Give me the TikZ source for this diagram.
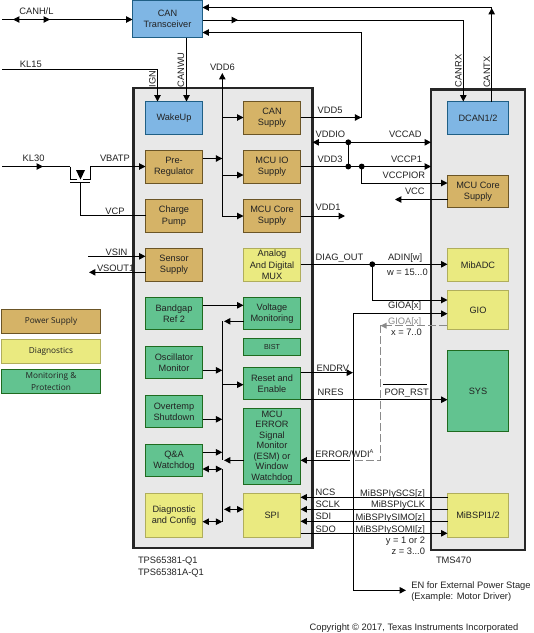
\documentclass[tikz,border=0pt]{standalone}
\usepackage{fontspec}
\setmainfont{Liberation Sans}
\newfontfamily\legendfont{Open Sans}
\usetikzlibrary{arrows.meta}
\definecolor{txt}{HTML}{222222}
\definecolor{bluef}{HTML}{7FB6E4}
\definecolor{blued}{HTML}{1F5F85}
\definecolor{tanf}{HTML}{D5B367}
\definecolor{tand}{HTML}{6B5526}
\definecolor{yelf}{HTML}{EAEA80}
\definecolor{yeld}{HTML}{B0AE5C}
\definecolor{grnf}{HTML}{62C390}
\definecolor{grnd}{HTML}{1F6B1F}
\definecolor{boxf}{HTML}{E8E8E8}
\definecolor{dashc}{HTML}{8A8A8A}
\tikzset{
  tip/.tip={Triangle[length=4.8pt,width=4.8pt]},
  wire/.style={draw=black,line width=0.75pt},
  arr/.style={wire,-{tip}},
  both/.style={wire,{tip}-{tip}},
  blk/.style={rectangle,inner sep=0pt,outer sep=0pt,align=center,text=txt,font=\fontsize{6.9pt}{8.5pt}\selectfont,line width=0.75pt},
  blue/.style={blk,fill=bluef,draw=blued},
  tan/.style={blk,fill=tanf,draw=tand},
  yel/.style={blk,fill=yelf,draw=yeld},
  grn/.style={blk,fill=grnf,draw=grnd},
  chip/.style={rectangle,inner sep=0pt,outer sep=0pt,fill=boxf,draw=black!85,line width=1.6pt},
  lbl/.style={inner sep=0pt,outer sep=0pt,text=txt,font=\fontsize{7pt}{8.5pt}\selectfont},
  legend/.style={font=\legendfont\fontsize{6.2pt}{8.5pt}\selectfont},
  dot/.style={circle,fill=black,inner sep=0pt,outer sep=0pt,minimum size=4.4pt},
  graydash/.style={draw=dashc,line width=0.75pt,dash pattern=on 6pt off 2.2pt},
}
\newcommand{\bx}[7]{\node[#2,minimum width={(#5-#3)*0.75pt},minimum height={(#6-#4)*0.75pt}] (#1) at ({(#3+#5)/2},{(#4+#6)/2}) {#7};}
% label with left edge x, vertical centre y
\newcommand{\lbw}[5][]{\node[lbl,anchor=base west,#1] (#2) at (#3,{#4+3.3}) {#5};}
% label with right edge x, vertical centre y
\newcommand{\lbe}[5][]{\node[lbl,anchor=base east,#1] (#2) at (#3,{#4+3.3}) {#5};}
\begin{document}
\begin{tikzpicture}[x=0.75pt,y=-0.75pt]
\useasboundingbox (0,0) rectangle (533,633);
% chips
\bx{tps}{chip}{133.5}{88}{312.5}{548}{}
\bx{tms}{chip}{431}{89.5}{525}{550}{}
% blocks
\bx{can}{blue}{132.5}{0.5}{202.5}{37.5}{CAN\\Transceiver}
\bx{wake}{blue}{145.5}{101.5}{202.5}{134.5}{WakeUp}
\bx{prereg}{tan}{145.5}{150.5}{202.5}{183.5}{Pre-\\Regulator}
\bx{pump}{tan}{145.5}{199.5}{202.5}{232.5}{Charge\\Pump}
\bx{sensor}{tan}{145.5}{248.5}{202.5}{281.5}{Sensor\\Supply}
\bx{bandgap}{grn}{145.5}{297.5}{202.5}{329.5}{Bandgap\\Ref 2}
\bx{osc}{grn}{145.5}{346.5}{202.5}{378.5}{Oscillator\\Monitor}
\bx{temp}{grn}{145.5}{395.5}{202.5}{427.5}{Overtemp\\Shutdown}
\bx{qa}{grn}{145.5}{444.5}{202.5}{476.5}{Q\&A\\Watchdog}
\bx{diag}{yel}{145.5}{493.5}{202.5}{537.5}{Diagnostic\\and Config}
\bx{cansup}{tan}{243.5}{101.5}{300.5}{134.5}{CAN\\Supply}
\bx{iosup}{tan}{243.5}{150.5}{300.5}{183.5}{MCU IO\\Supply}
\bx{coresup}{tan}{243.5}{199.5}{300.5}{232.5}{MCU Core\\Supply}
\bx{mux}{yel}{243.5}{248.5}{300.5}{281.5}{Analog\\And Digital\\MUX}
\bx{volt}{grn}{243.5}{297.5}{300.5}{329.5}{Voltage\\Monitoring}
\bx{bist}{grn,font=\fontsize{5.4pt}{6pt}\selectfont}{243.5}{338.5}{300.5}{355.5}{BIST}
\bx{reset}{grn}{243.5}{367.5}{300.5}{399.5}{Reset and\\Enable}
\bx{esm}{grn,font=\fontsize{6.9pt}{7.9pt}\selectfont}{243.5}{408.5}{300.5}{484.5}{MCU\\ERROR\\Signal\\Monitor\\(ESM) or\\Window\\Watchdog}
\bx{spi}{yel}{243.5}{493.5}{300.5}{537.5}{SPI}
\bx{dcan}{blue}{447.5}{101.5}{508.5}{134.5}{DCAN1/2}
\bx{mcucore}{tan}{447.5}{175.5}{508.5}{207.5}{MCU Core\\Supply}
\bx{adc}{yel}{447.5}{248.5}{508.5}{281.5}{MibADC}
\bx{gio}{yel}{447.5}{290.5}{508.5}{329.5}{GIO}
\bx{sys}{grn}{447.5}{350.5}{508.5}{431.5}{SYS}
\bx{mibspi}{yel}{447.5}{493.5}{508.5}{537.5}{MiBSPI1/2}
% legend
\bx{lgp}{tan,legend}{1.5}{309.5}{100.5}{333.5}{Power Supply}
\bx{lgd}{yel,legend}{1.5}{339.5}{100.5}{363.5}{Diagnostics}
\bx{lgm}{grn,legend}{1.5}{369.5}{100.5}{393.5}{Monitoring \&\\Protection}
% free ends and corners
\coordinate (canhl) at (2,19.5);
\coordinate (kl15) at (2,69.5);
\coordinate (kl30) at (2,166.5);
\coordinate (vdd6top) at (222.3,73);
\coordinate (vdd6bus) at (222.3,216);
\coordinate (vsin) at (88,256.3);
\coordinate (vsout) at (89,272.3);
\coordinate (vccend) at (395,199.5);
\coordinate (vdd1end) at (345,216);
\coordinate (busup) at (222.3,321.3);
\coordinate (busmid) at (222.3,460.3);
\coordinate (buslowt) at (222.3,469);
\coordinate (buslowb) at (222.3,521.7);
\coordinate (enbus) at (353,313.7);
\coordinate (enend) at (406,590.3);
\coordinate (tx) at (491.7,7.5);
\coordinate (rx) at (463.3,20);
\coordinate (v5) at (361.3,32.5);
\coordinate (v5b) at (361.3,117.5);
\node[dot] (d1) at (348.3,142.3) {};
\node[dot] (d2) at (348.3,166.5) {};
\node[dot] (d3) at (361.7,166.5) {};
\node[dot] (d4) at (372.3,264.3) {};
% MOSFET
\coordinate (fetl) at (70,166.5);
\coordinate (fetr) at (90,166.5);
\coordinate (fetg) at (80,182.5);
\draw[wire] (fetl) -- (70,179) -- (77,179);
\draw[wire] (fetr) -- (90,179) -- (83,179);
\draw[wire] (70,182.5) -- (90,182.5);
\fill[black] (76,170) -- (85,170) -- (80.5,179.5) -- cycle;
\draw[wire] (fetg) -- (80,215.8) -- (pump.west |- 0,215.8);
\draw[wire] (kl30) -- (fetl);
\draw[arr] (kl30) -- (43,166.5);
\draw[arr] (fetr) -- (prereg.west |- fetr);
% CAN connectors
\draw[arr] (canhl) -- (can.west |- canhl);
\draw[arr] (30,19.5) -- (13,19.5);
\draw[arr] (30,19.5) -- (50,19.5);
\draw[wire] (dcan.north -| tx) -- (tx);
\draw[arr] (dcan.north -| tx) -- (491.7,8);
\draw[arr] (tx) -- (can.east |- tx);
\draw[arr] (can.east |- rx) -- (rx) -- (dcan.north -| rx);
\draw[arr] (can.east |- rx) -- (238,20);
\draw[arr] (v5b) -- (v5) -- (can.east |- v5);
\draw[arr] (cansup.east |- v5b) -- (v5b);
\draw[arr] (can.south -| 186.5,0) -- (wake.north -| 186.5,0);
\draw[arr] (kl15) -- (157.5,69.5) -- (wake.north -| 157.5,0);
% VDD6 bus
\draw[arr] (vdd6bus) -- (vdd6top);
\draw[arr] (222.3,117.5) -- (cansup.west |- 0,117.5);
\draw[arr] (222.3,175) -- (iosup.west |- 0,175);
\draw[arr] (vdd6bus) -- (coresup.west |- vdd6bus);
\draw[arr] (prereg.east |- 0,158.5) -- (222.3,158.5);
% supply rails
\draw[both] (tps.east |- d1) -- (tms.west |- d1);
\draw[arr] (iosup.east |- d2) -- (tms.west |- d2);
\draw[wire] (d1) -- (d2);
\draw[arr] (d3) -- (361.7,183) -- (mcucore.west |- 0,183);
\draw[arr] (mcucore.west |- vccend) -- (vccend);
\draw[arr] (coresup.east |- vdd1end) -- (vdd1end);
% sensor
\draw[arr] (vsin) -- (sensor.west |- vsin);
\draw[arr] (sensor.west |- vsout) -- (vsout);
% diagnostics
\draw[arr] (mux.east |- d4) -- (adc.west |- d4);
\draw[arr] (d4) -- (372.3,300) -- (gio.west |- 0,300);
\draw[arr] (enbus) -- (gio.west |- enbus);
\draw[arr] (enbus) -- (353,590.3) -- (enend);
\draw[arr] (reset.east |- 0,372.7) -- (353,372.7);
\draw[arr] (reset.east |- 0,399.7) -- (sys.west |- 0,399.7);
% monitoring bus
\draw[arr] (bandgap.east |- 0,305.3) -- (volt.west |- 0,305.3);
\draw[arr] (volt.west |- busup) -- (224,321.3);
\draw[wire] (busup) -- (busmid);
\draw[arr] (osc.east |- 0,370.3) -- (222.3,370.3);
\draw[arr] (temp.east |- 0,419.3) -- (222.3,419.3);
\draw[arr] (qa.east |- 0,452.3) -- (222.3,452.3);
\draw[arr] (222.3,384.7) -- (reset.west |- 0,384.7);
\draw[arr] (esm.west |- busmid) -- (224,460.3);
\draw[wire] (buslowt) -- (buslowb);
\draw[both] (qa.east |- buslowt) -- (buslowt);
\draw[both] (diag.east |- buslowb) -- (buslowb);
\draw[both] (224,509.3) -- (spi.west |- 0,509.3);
% ERROR / WDI
\draw[arr] (350,460.3) -- (esm.east |- 0,460.3);
\coordinate (dashs) at (355,460.3);
\coordinate (dashk) at (380.5,460.3);
\draw[graydash] (dashs) -- (dashk) -- (380.5,325.7) -- (gio.west |- 0,325.7);
\fill[dashc] (380.5,325.7) -- (386.5,322.7) -- (386.5,328.7) -- cycle;
% SPI
\draw[arr] (mibspi.west |- 0,497.3) -- (spi.east |- 0,497.3);
\draw[arr] (mibspi.west |- 0,509.3) -- (spi.east |- 0,509.3);
\draw[arr] (mibspi.west |- 0,521.3) -- (spi.east |- 0,521.3);
\draw[arr] (spi.east |- 0,533.3) -- (mibspi.west |- 0,533.3);
% labels
\lbw{tcanhl}{19.3}{10.7}{CANH/L}
\lbw{tkl15}{20}{64}{KL15}
\lbw{tkl30}{22.7}{158}{KL30}
\lbw{tvbatp}{100}{158}{VBATP}
\lbw{tvcp}{105.3}{211}{VCP}
\node[lbl,rotate=90] (tign) at (152.5,78.7) {IGN};
\node[lbl,rotate=90] (tcanwu) at (181,70) {CANWU};
\node[lbl,rotate=90] (tcanrx) at (458.5,71) {CANRX};
\node[lbl,rotate=90] (tcantx) at (487,72) {CANTX};
\lbw{tvdd6}{210}{67}{VDD6}
\lbw{tvdd5}{317.7}{110}{VDD5}
\lbw{tvddio}{315.7}{133.7}{VDDIO}
\lbw{tvccad}{389}{134}{VCCAD}
\lbw{tvdd3}{317.7}{158.7}{VDD3}
\lbw{tvccp}{391}{158.7}{VCCP1}
\lbw{tvccpior}{382.7}{175}{VCCPIOR}
\lbw{tvcc}{405}{191.3}{VCC}
\lbw{tvdd1}{315.7}{207}{VDD1}
\lbw{tvsin}{105.7}{251.7}{VSIN}
\lbw{tvsout}{97}{267.7}{VSOUT1}
\lbw{tdiag}{315.7}{256.7}{DIAG\_OUT}
\lbw{tadin}{388}{256.7}{ADIN[w]}
\lbw{tw}{387}{271.7}{w = 15...0}
\lbw{tgioa}{388}{305.3}{GIOA[x]}
\lbw[text=dashc]{tgiob}{388}{321}{GIOA[x]}
\lbw{tx7}{391}{331.7}{x = 7..0}
\lbw{tendrv}{316.7}{368}{ENDRV}
\lbw{tnres}{317.7}{392}{NRES}
\lbw{tpor}{384.7}{391.7}{POR\_RST}
\coordinate (porl) at (383.3,384.5);
\coordinate (porr) at (426.7,384.5);
\draw[wire] (porl) -- (porr);
\lbw{terror}{315.3}{454}{ERROR/WDI\raisebox{2.6pt}{\fontsize{4.2pt}{5pt}\selectfont A}}
\lbw{tncs}{315.7}{492.3}{NCS}
\lbw{tsclk}{315.7}{504.3}{SCLK}
\lbw{tsdi}{315.7}{516.3}{SDI}
\lbw{tsdo}{315.7}{528.7}{SDO}
\lbe{tscs}{425}{492.7}{MiBSPIySCS[z]}
\lbe{tclk}{425}{504}{MiBSPIyCLK}
\lbe{tsimo}{425}{516.7}{MiBSPIySIMO[z]}
\lbe{tsomi}{425}{528.7}{MiBSPIySOMI[z]}
\lbe{ty}{425}{540}{y = 1 or 2}
\lbe{tz}{425}{551.3}{z = 3...0}
\lbw{tps1}{138}{560}{TPS65381-Q1}
\lbw{tps2}{138}{571.7}{TPS65381A-Q1}
\lbw{ttms}{436}{560}{TMS470}
\lbw{ten1}{411.3}{584.7}{EN for External Power Stage}
\lbw{ten2}{411.3}{595.7}{(Example: Motor Driver)}
\lbe{tcopy}{518.3}{627.3}{Copyright © 2017, Texas Instruments Incorporated}
\end{tikzpicture}
\end{document}
